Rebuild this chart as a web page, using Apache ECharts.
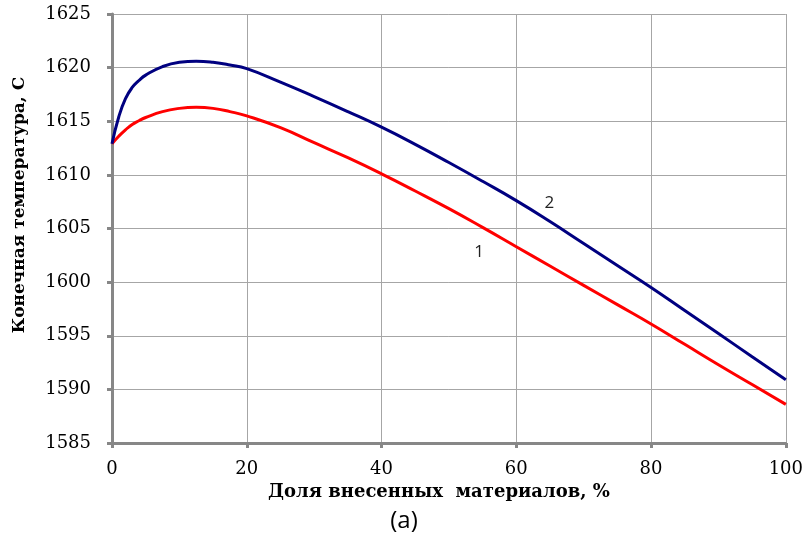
<!DOCTYPE html>
<html>
<head>
<meta charset="utf-8">
<script src="https://cdn.jsdelivr.net/npm/echarts@6/dist/echarts.min.js"></script>
<style>
html,body{margin:0;padding:0;background:#fff;}
#chart{width:806px;height:539px;}
</style>
</head>
<body>
<div id="chart"></div>
<script>
// Data
const xValues = [0, 1, 2, 3, 4, 5, 7.5, 10, 12.5, 15, 17.5, 20, 25, 30, 35, 40, 45, 50, 55, 60, 65, 70, 75, 80, 85, 90, 95, 100];
const curve1 = [1612.9, 1613.6, 1614.2, 1614.7, 1615.05, 1615.35, 1615.9, 1616.2, 1616.3, 1616.2, 1615.9, 1615.5,
                1614.4, 1613.0, 1611.6, 1610.1, 1608.5, 1606.85, 1605.1, 1603.3, 1601.5, 1599.7, 1597.9, 1596.1, 1594.2, 1592.3, 1590.45, 1588.6];
const curve2 = [1612.9, 1615.4, 1617.1, 1618.15, 1618.8, 1619.3, 1620.1, 1620.5, 1620.6, 1620.5, 1620.25, 1619.9,
                1618.65, 1617.3, 1615.9, 1614.45, 1612.85, 1611.15, 1609.4, 1607.6, 1605.65, 1603.6, 1601.55, 1599.5, 1597.35, 1595.2, 1593.05, 1590.9];
const curveNames = ['1', '2'];
const labelPos1 = [54.5, 1602.8];
const labelPos2 = [64.9, 1607.4];
const xTitle = 'Доля внесенных  материалов, %';
const yTitle = 'Конечная температура, С';
const caption = '(a)';

const chart = echarts.init(document.getElementById('chart'), null, {renderer: 'canvas'});
const pairs = (ys) => xValues.map((x, i) => [x, ys[i]]);
const axisGray = '#878787';
const gridGray = '#a6a6a6';
const serif = '"DejaVu Serif", "Liberation Serif", serif';

function mark(pos, name) {
  return {
    symbol: 'circle', symbolSize: 0,
    label: {show: true, position: 'inside', formatter: name, color: '#222', fontFamily: '"Open Sans", sans-serif', fontSize: 17},
    data: [{coord: pos}]
  };
}

chart.setOption({
  animation: false,
  backgroundColor: '#fff',
  grid: {left: 112, top: 14, right: 18, bottom: 96, containLabel: false},
  xAxis: {
    type: 'value', min: 0, max: 100, interval: 20,
    name: xTitle, nameLocation: 'middle', nameGap: 34,
    nameTextStyle: {fontFamily: serif, fontWeight: 'bold', fontSize: 18, color: '#000', padding: [0, 20, 0, 0]},
    axisLine: {show: true, onZero: false, lineStyle: {color: axisGray, width: 3}},
    axisTick: {show: true, inside: false, length: 5, lineStyle: {color: axisGray, width: 3}},
    axisLabel: {fontFamily: serif, fontSize: 18, color: '#000', margin: 17},
    splitLine: {show: true, lineStyle: {color: gridGray, width: 1}}
  },
  yAxis: {
    type: 'value', min: 1585, max: 1625, interval: 5,
    name: yTitle, nameLocation: 'middle', nameGap: 84, nameRotate: 90,
    nameTextStyle: {fontFamily: serif, fontWeight: 'bold', fontSize: 17, color: '#000', padding: [0, 0, 0, 47]},
    axisLine: {show: true, onZero: false, lineStyle: {color: axisGray, width: 3}},
    axisTick: {show: true, inside: false, length: 5, lineStyle: {color: axisGray, width: 3}},
    axisLabel: {fontFamily: serif, fontSize: 18, color: '#000', margin: 21, formatter: (v) => String(v)},
    splitLine: {show: true, lineStyle: {color: gridGray, width: 1}}
  },
  series: [
    {
      name: curveNames[0], type: 'line', data: pairs(curve1), smooth: 0.5,
      showSymbol: false, lineStyle: {color: '#ff0000', width: 3}, itemStyle: {color: '#ff0000'},
      markPoint: mark(labelPos1, curveNames[0]), z: 3
    },
    {
      name: curveNames[1], type: 'line', data: pairs(curve2), smooth: 0.5,
      showSymbol: false, lineStyle: {color: '#000080', width: 3}, itemStyle: {color: '#000080'},
      markPoint: mark(labelPos2, curveNames[1]), z: 4
    }
  ],
  graphic: [{
    type: 'text', x: 404, y: 521,
    style: {text: caption, fontFamily: '"Open Sans", sans-serif', fontSize: 24, fill: '#000', align: 'center', verticalAlign: 'middle'}
  }]
});
</script>
</body>
</html>
